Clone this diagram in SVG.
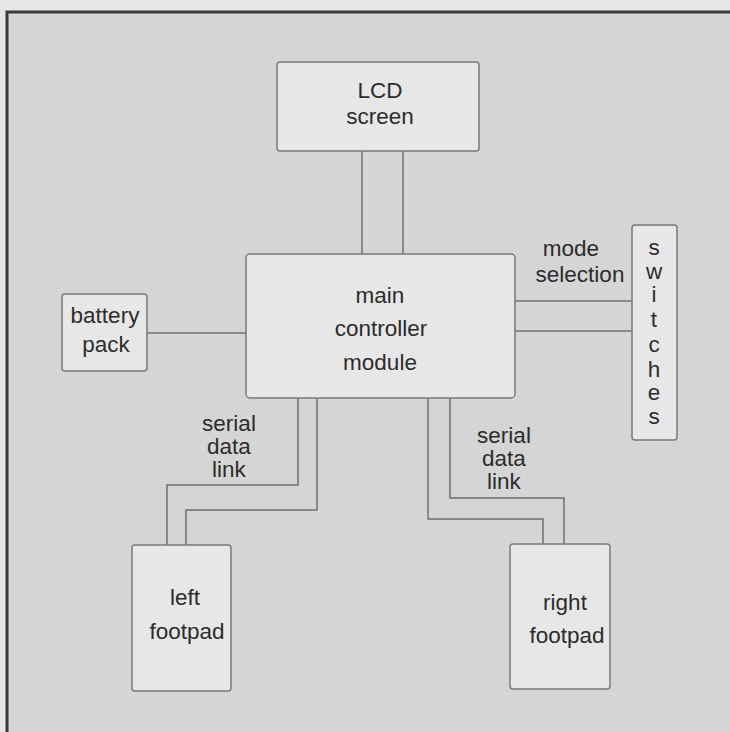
<svg xmlns="http://www.w3.org/2000/svg" width="730" height="732" viewBox="0 0 730 732">
<style>
.box{fill:#e7e7e7;stroke:#7a7a7a;stroke-width:1.5}
.t{font-family:"Liberation Sans",Arial,sans-serif;font-size:22.5px;fill:#2c2c2c;text-anchor:middle}
.c{fill:none;stroke:#707070;stroke-width:1.5}
</style>
<rect x="0" y="0" width="730" height="732" fill="#e6e6e6"/>
<rect x="7" y="12" width="730" height="730" fill="#d5d5d5" stroke="#3a3a3a" stroke-width="3"/>
<g id="connectors">
<line class="c" x1="362" y1="151" x2="362" y2="254"/>
<line class="c" x1="403" y1="151" x2="403" y2="254"/>
<line class="c" x1="147" y1="333" x2="246" y2="333"/>
<line class="c" x1="515" y1="301" x2="632" y2="301"/>
<line class="c" x1="515" y1="331" x2="632" y2="331"/>
<polyline class="c" points="298,398 298,485 167,485 167,545"/>
<polyline class="c" points="317,398 317,510 186,510 186,545"/>
<polyline class="c" points="428,398 428,519 543,519 543,544"/>
<polyline class="c" points="450,398 450,498 564,498 564,544"/>
</g>
<g id="lcd">
<rect class="box" x="277" y="62" width="202" height="89" rx="3"/>
<text class="t" x="380" y="98">LCD</text>
<text class="t" x="380" y="124">screen</text>
</g>
<g id="main">
<rect class="box" x="246" y="254" width="269" height="144" rx="4"/>
<text class="t" x="380" y="303">main</text>
<text class="t" x="381" y="336">controller</text>
<text class="t" x="380" y="370">module</text>
</g>
<g id="battery">
<rect class="box" x="62" y="294" width="85" height="77" rx="3"/>
<text class="t" x="105" y="323">battery</text>
<text class="t" x="106" y="352">pack</text>
</g>
<g id="switches">
<rect class="box" x="632" y="225" width="45" height="215" rx="3"/>
<text class="t" x="654" y="255">s</text>
<text class="t" x="654" y="279">w</text>
<text class="t" x="654" y="302">i</text>
<text class="t" x="654" y="327">t</text>
<text class="t" x="654" y="352">c</text>
<text class="t" x="654" y="377">h</text>
<text class="t" x="654" y="400">e</text>
<text class="t" x="654" y="424">s</text>
</g>
<g id="mode-label">
<text class="t" x="571" y="256">mode</text>
<text class="t" x="580" y="282">selection</text>
</g>
<g id="left-link-label">
<text class="t" x="229" y="431">serial</text>
<text class="t" x="229" y="454">data</text>
<text class="t" x="229" y="477">link</text>
</g>
<g id="right-link-label">
<text class="t" x="504" y="443">serial</text>
<text class="t" x="504" y="466">data</text>
<text class="t" x="504" y="489">link</text>
</g>
<g id="left-footpad">
<rect class="box" x="132" y="545" width="99" height="146" rx="3"/>
<text class="t" x="185" y="605">left</text>
<text class="t" x="187" y="639">footpad</text>
</g>
<g id="right-footpad">
<rect class="box" x="510" y="544" width="100" height="145" rx="3"/>
<text class="t" x="565" y="610">right</text>
<text class="t" x="567" y="643">footpad</text>
</g>
</svg>
